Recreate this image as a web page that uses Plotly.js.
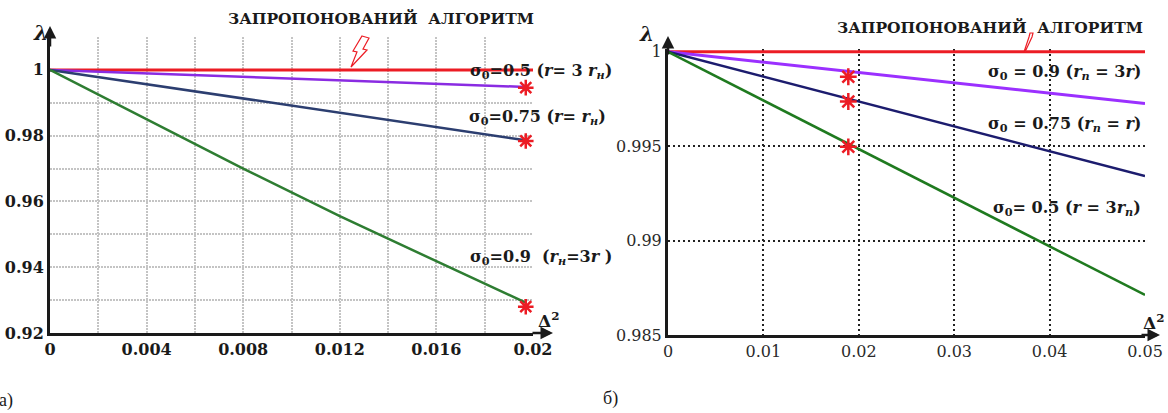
<!DOCTYPE html>
<html>
<head>
<meta charset="utf-8">
<script src="https://cdn.plot.ly/plotly-3.0.1.min.js"></script>
<style>html,body{margin:0;padding:0;background:#fff;}#chart{width:1168px;height:413px;}</style>
</head>
<body>
<div id="chart"></div>
<script>
// ---- data ----
// Panel а)
const xRedA = [0, 0.02];
const redA = [1, 1];
const xLinA = [0, 0.0197];
const purpleA = [1, 0.9948];
const blueA = [1, 0.9786];
const xGreenA = [0, 0.004, 0.008, 0.012, 0.016, 0.0197];
const greenA = [1, 0.985, 0.970, 0.9555, 0.9418, 0.9292];
const xStarA = [0.0197, 0.0197, 0.0197];
const starA = [0.9946, 0.9784, 0.9280];
const xTickA = [0, 0.004, 0.008, 0.012, 0.016, 0.02];
const xTickTextA = ['0', '0.004', '0.008', '0.012', '0.016', '0.02'];
const yTickA = [0.92, 0.94, 0.96, 0.98, 1];
const yTickTextA = ['0.92', '0.94', '0.96', '0.98', '1'];

// Panel б)
const xRedB = [0, 0.05];
const redB = [1, 1];
const xLinB = [0, 0.05];
const purpleB = [1, 0.99726];
const blueB = [1, 0.99342];
const greenB = [1, 0.98712];
const xStarB = [0.0189, 0.0189, 0.0189];
const starB = [0.99868, 0.99737, 0.99497];
const xTickB = [0, 0.01, 0.02, 0.03, 0.04, 0.05];
const xTickTextB = ['0', '0.01', '0.02', '0.03', '0.04', '0.05'];
const yTickB = [0.985, 0.99, 0.995, 1];
const yTickTextB = ['0.985', '0.99', '0.995', '1'];

const W = 1168, H = 413;
const px = x => x / W;
const py = y => 1 - y / H;
const pathPx = pts => 'M ' + pts.map(p => px(p[0]) + ',' + py(p[1])).join(' L ') + ' Z';

const DV = 'DejaVu Serif';
const TNR = 'Liberation Serif';
const RED = '#ec1c24';
const INK = '#1a1a1a';

const traces = [
  {x: xRedA, y: redA, mode: 'lines', line: {color: RED, width: 3}, xaxis: 'x', yaxis: 'y'},
  {x: xLinA, y: purpleA, mode: 'lines', line: {color: '#8a2be2', width: 2.5}, xaxis: 'x', yaxis: 'y'},
  {x: xLinA, y: blueA, mode: 'lines', line: {color: '#2c3e70', width: 2.5}, xaxis: 'x', yaxis: 'y'},
  {x: xGreenA, y: greenA, mode: 'lines', line: {color: '#2e7d32', width: 2.5}, xaxis: 'x', yaxis: 'y'},
  {x: xStarA, y: starA, mode: 'markers', marker: {symbol: 'asterisk-open', size: 13, color: RED, line: {color: RED, width: 2.5}}, xaxis: 'x', yaxis: 'y', cliponaxis: false},

  {x: xRedB, y: redB, mode: 'lines', line: {color: RED, width: 3}, xaxis: 'x2', yaxis: 'y2', cliponaxis: false},
  {x: xLinB, y: purpleB, mode: 'lines', line: {color: '#9b30ff', width: 3}, xaxis: 'x2', yaxis: 'y2'},
  {x: xLinB, y: blueB, mode: 'lines', line: {color: '#1c1c6e', width: 2.5}, xaxis: 'x2', yaxis: 'y2'},
  {x: xLinB, y: greenB, mode: 'lines', line: {color: '#1f7a1f', width: 2.5}, xaxis: 'x2', yaxis: 'y2'},
  {x: xStarB, y: starB, mode: 'markers', marker: {symbol: 'asterisk-open', size: 14, color: RED, line: {color: RED, width: 2.5}}, xaxis: 'x2', yaxis: 'y2', cliponaxis: false}
];

const gridA = {showgrid: true, gridcolor: '#c4c4c4', gridwidth: 2, griddash: '2px,1px'};
const gridB = {showgrid: true, gridcolor: '#222', gridwidth: 2, griddash: '2px,3px'};
const axLine = {showline: true, linecolor: INK, linewidth: 3, zeroline: false, ticks: '', fixedrange: true};

function ann(text, x, y, size, opts, fam, weight) {
  return Object.assign({xref: 'paper', yref: 'paper', x: px(x), y: py(y), text: text, showarrow: false,
    font: {family: fam || DV, size: size, color: INK, weight: weight || 'bold'}, xanchor: 'left', yanchor: 'middle'}, opts || {});
}
function arrow(x, y, axp, ayp) {
  return {xref: 'paper', yref: 'paper', x: px(x), y: py(y), ax: axp, ay: ayp, text: '', showarrow: true,
    arrowhead: 2, arrowsize: 1, arrowwidth: 2.5, arrowcolor: INK, standoff: 0};
}

const s0 = 'σ<sub>0</sub>';
const annotations = [
  ann('ЗАПРОПОНОВАНИЙ  АЛГОРИТМ', 381, 18, 15.5, {xanchor: 'center'}),
  ann('ЗАПРОПОНОВАНИЙ  АЛГОРИТМ', 990, 27, 15.5, {xanchor: 'center'}),
  ann(s0 + '=0.5 (<i>r</i>= 3 <i>r</i><sub><i>н</i></sub>)', 614, 71, 16, {xanchor: 'right'}),
  ann(s0 + '=0.75 (<i>r</i>= <i>r</i><sub><i>н</i></sub>)', 608, 117, 16, {xanchor: 'right'}),
  ann(s0 + '=0.9  (<i>r</i><sub><i>н</i></sub>=3<i>r</i> )', 614, 257, 16, {xanchor: 'right'}),
  ann(s0 + ' = 0.9 (<i>r</i><sub><i>n</i></sub> = 3<i>r</i>)', 1143, 72, 16, {xanchor: 'right'}),
  ann(s0 + ' = 0.75 (<i>r</i><sub><i>n</i></sub> = <i>r</i>)', 1143, 124, 16, {xanchor: 'right'}),
  ann(s0 + '= 0.5 (<i>r</i> = 3<i>r</i><sub><i>n</i></sub>)', 1143, 209, 16, {xanchor: 'right'}),
  ann('<i>λ</i>', 40, 33, 20, {xanchor: 'center'}),
  ann('<i>λ</i>', 646, 34, 20, {xanchor: 'center'}),
  ann('Δ<sup>2</sup>', 548, 320, 17, {xanchor: 'center'}),
  ann('Δ<sup>2</sup>', 1153, 322, 17, {xanchor: 'center'}),
  ann('а)', -3, 400, 18, {}, TNR, 'normal'),
  ann('б)', 601, 398, 18, {}, TNR, 'normal'),
  arrow(50, 26, 0, 22),
  arrow(553, 333, -22, 0),
  arrow(668, 36, 0, 20),
  arrow(1160, 335, -20, 0)
];

const shapes = [
  {type: 'path', xref: 'paper', yref: 'paper', layer: 'above',
   path: pathPx([[362, 36], [369, 38], [363, 49], [367, 50], [351, 67], [357, 52], [353, 51]]),
   line: {color: RED, width: 1.2}, fillcolor: 'rgba(255,255,255,1)'},
  {type: 'path', xref: 'paper', yref: 'paper', layer: 'above',
   path: pathPx([[1024, 52], [1029, 37], [1030, 33], [1033, 33], [1032, 37], [1025, 52]]),
   line: {color: RED, width: 1.2}, fillcolor: 'rgba(255,255,255,1)'}
];

const layout = {
  width: W, height: H,
  margin: {l: 0, r: 0, t: 0, b: 0},
  paper_bgcolor: '#fff', plot_bgcolor: '#fff',
  showlegend: false,
  font: {family: DV},
  xaxis: Object.assign({}, axLine, gridA, {
    domain: [px(50), px(533)], range: [0, 0.02], anchor: 'y',
    tickmode: 'array', tickvals: xTickA, ticktext: xTickTextA,
    minor: {dtick: 0.002, showgrid: true, gridcolor: '#c4c4c4', gridwidth: 2, griddash: '2px,1px'},
    tickfont: {family: DV, size: 16, color: INK, weight: 'bold'}
  }),
  yaxis: Object.assign({}, axLine, gridA, {
    domain: [py(333), py(37)], range: [0.92, 1.01], anchor: 'x',
    tickmode: 'array', tickvals: yTickA, ticktext: yTickTextA,
    minor: {dtick: 0.01, tick0: 0.92, showgrid: true, gridcolor: '#c4c4c4', gridwidth: 2, griddash: '2px,1px'},
    tickfont: {family: DV, size: 16, color: INK, weight: 'bold'}
  }),
  xaxis2: Object.assign({}, axLine, gridB, {
    domain: [px(668), px(1145)], range: [0, 0.05], anchor: 'y2',
    tickmode: 'array', tickvals: xTickB, ticktext: xTickTextB,
    tickfont: {family: DV, size: 16, color: '#2a2a2a'}
  }),
  yaxis2: Object.assign({}, axLine, gridB, {
    domain: [py(335), py(49)], range: [0.985, 1.00015], anchor: 'x2',
    tickmode: 'array', tickvals: yTickB, ticktext: yTickTextB,
    tickfont: {family: DV, size: 16, color: '#2a2a2a'}
  }),
  annotations: annotations,
  shapes: shapes
};

Plotly.newPlot('chart', traces, layout, {displayModeBar: false, staticPlot: true});
</script>
</body>
</html>
